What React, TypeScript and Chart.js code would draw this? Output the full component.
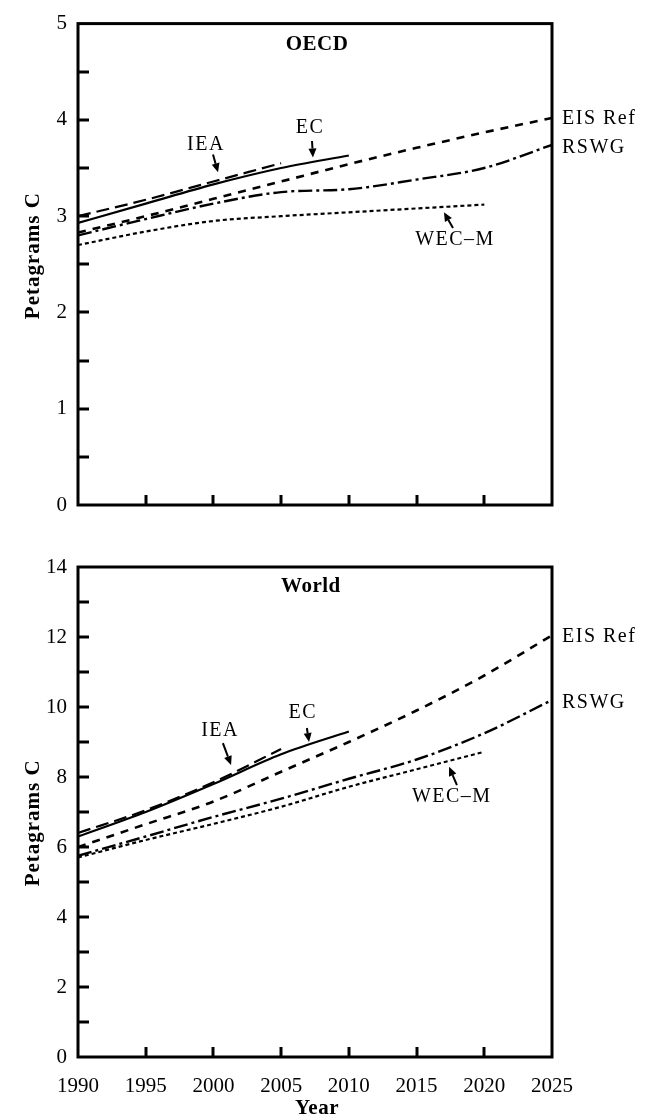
import React, { useEffect, useRef } from 'react';
import { Chart, registerables } from 'chart.js';

Chart.register(...registerables);

const SERIF = '"Liberation Serif", "Times New Roman", serif';

// ---------- OECD panel data ----------
const oecdIEAYears = [1990, 1995, 2000, 2005];
const oecdIEA = [3.0, 3.17, 3.36, 3.55];
const oecdECYears = [1990, 1995, 2000, 2005, 2010];
const oecdEC = [2.93, 3.13, 3.33, 3.5, 3.63];
const oecdEISYears = [1990, 1995, 2000, 2005, 2010, 2015, 2020, 2025];
const oecdEIS = [2.83, 3.0, 3.18, 3.36, 3.54, 3.71, 3.87, 4.02];
const oecdRSWGYears = [1990, 1995, 2000, 2005, 2010, 2015, 2020, 2025];
const oecdRSWG = [2.8, 2.97, 3.13, 3.25, 3.28, 3.38, 3.5, 3.74];
const oecdWECYears = [1990, 1995, 2000, 2005, 2010, 2015, 2020];
const oecdWEC = [2.7, 2.84, 2.95, 3.0, 3.04, 3.08, 3.12];

// ---------- World panel data ----------
const worldIEAYears = [1990, 1995, 2000, 2005];
const worldIEA = [6.4, 7.05, 7.85, 8.8];
const worldECYears = [1990, 1995, 2000, 2005, 2010];
const worldEC = [6.3, 7.0, 7.8, 8.65, 9.3];
const worldEISYears = [1990, 1995, 2000, 2005, 2010, 2015, 2020, 2025];
const worldEIS = [6.0, 6.65, 7.3, 8.15, 9.0, 9.9, 10.9, 12.05];
const worldRSWGYears = [1990, 1995, 2000, 2005, 2010, 2015, 2020, 2025];
const worldRSWG = [5.75, 6.3, 6.86, 7.38, 7.95, 8.5, 9.25, 10.2];
const worldWECYears = [1990, 1995, 2000, 2005, 2010, 2015, 2020];
const worldWEC = [5.7, 6.2, 6.66, 7.15, 7.72, 8.22, 8.72];

// ---------- axes ----------
const yearMin = 1990;
const yearMax = 2025;
const yearStep = 5;
const oecdYMax = 5;
const oecdYStep = 0.5;
const worldYMax = 14;
const worldYStep = 1;

// ---------- annotations (data coordinates) ----------
// [text, year, value, bold]
const oecdTexts: [string, number, number, boolean][] = [
  ['OECD', 2007.65, 4.78, true],
  ['IEA', 1999.45, 3.74, false],
  ['EC', 2007.13, 3.92, false],
  ['WEC\u2013M', 2017.84, 2.75, false],
];
// [tailYear, tailValue, tipYear, tipValue]
const oecdArrows: [number, number, number, number][] = [
  [1999.97, 3.64, 2000.34, 3.455],
  [2007.28, 3.78, 2007.35, 3.61],
  [2017.69, 2.876, 2017.02, 3.04],
];
const oecdEndLabels = ['EIS Ref', 'RSWG'];
const oecdEndValues = [4.01, 3.71];

const worldTexts: [string, number, number, boolean][] = [
  ['World', 2007.2, 13.43, true],
  ['IEA', 2000.49, 9.31, false],
  ['EC', 2006.6, 9.83, false],
  ['WEC\u2013M', 2017.6, 7.43, false],
];
const worldArrows: [number, number, number, number][] = [
  [2000.7, 8.97, 2001.3, 8.34],
  [2006.9, 9.4, 2007.06, 9.0],
  [2017.98, 7.77, 2017.4, 8.29],
];
const worldEndLabels = ['EIS Ref', 'RSWG'];
const worldEndValues = [12.0, 10.11];

const yTitle = 'Petagrams C';
const xTitle = 'Year';

function pts(xs: number[], ys: number[]) {
  return xs.map((x, i) => ({ x, y: ys[i] }));
}

function line(label: string, data: { x: number; y: number }[], dash: number[], width: number) {
  return {
    label,
    data,
    borderColor: '#000',
    backgroundColor: '#000',
    borderWidth: width,
    borderDash: dash,
    pointRadius: 0,
    fill: false,
    cubicInterpolationMode: 'monotone' as const,
    borderCapStyle: 'butt' as const,
  };
}

function makeConfig(p: any) {
  const overlay = {
    id: 'overlay',
    afterDraw(chart: any) {
      const { ctx, chartArea: a } = chart;
      const x = chart.scales.x;
      const y = chart.scales.y;
      ctx.save();
      ctx.strokeStyle = '#000';
      ctx.fillStyle = '#000';
      // inward ticks
      ctx.lineWidth = 3;
      ctx.lineCap = 'butt';
      for (const t of y.ticks) {
        if (t.value <= y.min || t.value >= y.max) continue;
        const py = Math.round(y.getPixelForValue(t.value));
        ctx.beginPath();
        ctx.moveTo(a.left, py);
        ctx.lineTo(a.left + 11, py);
        ctx.stroke();
      }
      for (const t of x.ticks) {
        if (t.value <= x.min || t.value >= x.max) continue;
        const px = Math.round(x.getPixelForValue(t.value));
        ctx.beginPath();
        ctx.moveTo(px, a.bottom);
        ctx.lineTo(px, a.bottom - 10);
        ctx.stroke();
      }
      // frame
      ctx.lineWidth = 3;
      ctx.strokeRect(a.left, a.top, a.right - a.left, a.bottom - a.top);

      // texts
      ctx.textAlign = 'center';
      ctx.textBaseline = 'middle';
      for (const [txt, xv, yv, bold] of p.texts) {
        ctx.font = (bold ? 'bold 21px ' : '20px ') + SERIF;
        (ctx as any).letterSpacing = bold ? '0.5px' : '1.5px';
        ctx.fillText(txt, x.getPixelForValue(xv), y.getPixelForValue(yv));
      }
      // end labels
      ctx.textAlign = 'left';
      ctx.font = '20px ' + SERIF;
      (ctx as any).letterSpacing = '1.5px';
      p.endLabels.forEach((txt: string, i: number) => {
        ctx.fillText(txt, a.right + 10, y.getPixelForValue(p.endValues[i]));
      });
      (ctx as any).letterSpacing = '0px';

      // arrows
      ctx.lineWidth = 2;
      for (const [tx, ty, hx, hy] of p.arrows) {
        const x0 = x.getPixelForValue(tx), y0 = y.getPixelForValue(ty);
        const x1 = x.getPixelForValue(hx), y1 = y.getPixelForValue(hy);
        const ang = Math.atan2(y1 - y0, x1 - x0);
        const hl = 9, hw = 4;
        const bx = x1 - hl * Math.cos(ang), by = y1 - hl * Math.sin(ang);
        ctx.beginPath();
        ctx.moveTo(x0, y0);
        ctx.lineTo(bx, by);
        ctx.stroke();
        ctx.beginPath();
        ctx.moveTo(x1, y1);
        ctx.lineTo(bx + hw * Math.sin(ang), by - hw * Math.cos(ang));
        ctx.lineTo(bx - hw * Math.sin(ang), by + hw * Math.cos(ang));
        ctx.closePath();
        ctx.fill();
      }

      // y title
      ctx.save();
      ctx.translate(34, y.getPixelForValue(p.yTitleValue));
      ctx.rotate(-Math.PI / 2);
      ctx.textAlign = 'center';
      ctx.textBaseline = 'middle';
      ctx.font = 'bold 21px ' + SERIF;
      (ctx as any).letterSpacing = '1px';
      ctx.fillText(yTitle, 0, 0);
      ctx.restore();

      // x title
      if (p.showX) {
        ctx.textAlign = 'center';
        ctx.textBaseline = 'middle';
        ctx.font = 'bold 21px ' + SERIF;
        (ctx as any).letterSpacing = '0.5px';
        ctx.fillText(xTitle, (a.left + a.right) / 2 + 2, a.bottom + 52);
        (ctx as any).letterSpacing = '0px';
      }
      ctx.restore();
    },
  };

  return {
    type: 'line' as const,
    data: { datasets: p.datasets },
    options: {
      responsive: false,
      maintainAspectRatio: false,
      animation: false as const,
      devicePixelRatio: 1,
      layout: { padding: { left: 0, right: 102, top: p.padTop, bottom: 0 } },
      plugins: { legend: { display: false }, tooltip: { enabled: false } },
      scales: {
        x: {
          type: 'linear' as const,
          min: yearMin,
          max: yearMax,
          grid: { display: false, drawTicks: false },
          border: { display: false },
          ticks: {
            display: p.showX,
            stepSize: yearStep,
            padding: 17,
            color: '#000',
            font: { family: SERIF, size: 21 },
            maxRotation: 0,
            callback: (v: number) => String(v),
          },
          afterFit: (s: any) => {
            s.height = p.xHeight;
          },
        },
        y: {
          type: 'linear' as const,
          min: 0,
          max: p.yMax,
          grid: { display: false, drawTicks: false },
          border: { display: false },
          ticks: {
            stepSize: p.yStep,
            padding: 11,
            color: '#000',
            autoSkip: false,
            font: { family: SERIF, size: 21 },
            callback: (v: number) => (Math.abs(v % p.labelEvery) < 1e-9 ? String(v) : ''),
          },
          afterFit: (s: any) => {
            s.width = 78;
          },
        },
      },
    },
    plugins: [overlay],
  };
}

export default function App() {
  const r1 = useRef<HTMLCanvasElement>(null);
  const r2 = useRef<HTMLCanvasElement>(null);

  useEffect(() => {
    const c1 = new Chart(
      r1.current!,
      makeConfig({
        datasets: [
          line('IEA', pts(oecdIEAYears, oecdIEA), [13, 6], 2.2),
          line('EC', pts(oecdECYears, oecdEC), [], 2.2),
          line('EIS Ref', pts(oecdEISYears, oecdEIS), [8, 7], 2.6),
          line('RSWG', pts(oecdRSWGYears, oecdRSWG), [14, 4, 3, 4], 2.4),
          line('WEC-M', pts(oecdWECYears, oecdWEC), [4, 3], 2.2),
        ],
        yMax: oecdYMax,
        yStep: oecdYStep,
        labelEvery: 1,
        padTop: 13,
        xHeight: 35,
        showX: false,
        texts: oecdTexts,
        arrows: oecdArrows,
        endLabels: oecdEndLabels,
        endValues: oecdEndValues,
        yTitleValue: 2.59,
      }) as any
    );
    const c2 = new Chart(
      r2.current!,
      makeConfig({
        datasets: [
          line('IEA', pts(worldIEAYears, worldIEA), [13, 6], 2.2),
          line('EC', pts(worldECYears, worldEC), [], 2.2),
          line('EIS Ref', pts(worldEISYears, worldEIS), [8, 7], 2.6),
          line('RSWG', pts(worldRSWGYears, worldRSWG), [14, 4, 3, 4], 2.4),
          line('WEC-M', pts(worldWECYears, worldWEC), [4, 3], 2.2),
        ],
        yMax: worldYMax,
        yStep: worldYStep,
        labelEvery: 2,
        padTop: 27,
        xHeight: 63,
        showX: true,
        texts: worldTexts,
        arrows: worldArrows,
        endLabels: worldEndLabels,
        endValues: worldEndValues,
        yTitleValue: 6.69,
      }) as any
    );
    return () => {
      c1.destroy();
      c2.destroy();
    };
  }, []);

  return (
    <div style={{ position: 'absolute', left: 0, top: 0, width: 654, height: 1120, background: '#fff' }}>
      <canvas
        ref={r1}
        width={654}
        height={540}
        style={{ position: 'absolute', left: 0, top: 0, width: 654, height: 540 }}
      />
      <canvas
        ref={r2}
        width={654}
        height={580}
        style={{ position: 'absolute', left: 0, top: 540, width: 654, height: 580 }}
      />
    </div>
  );
}
